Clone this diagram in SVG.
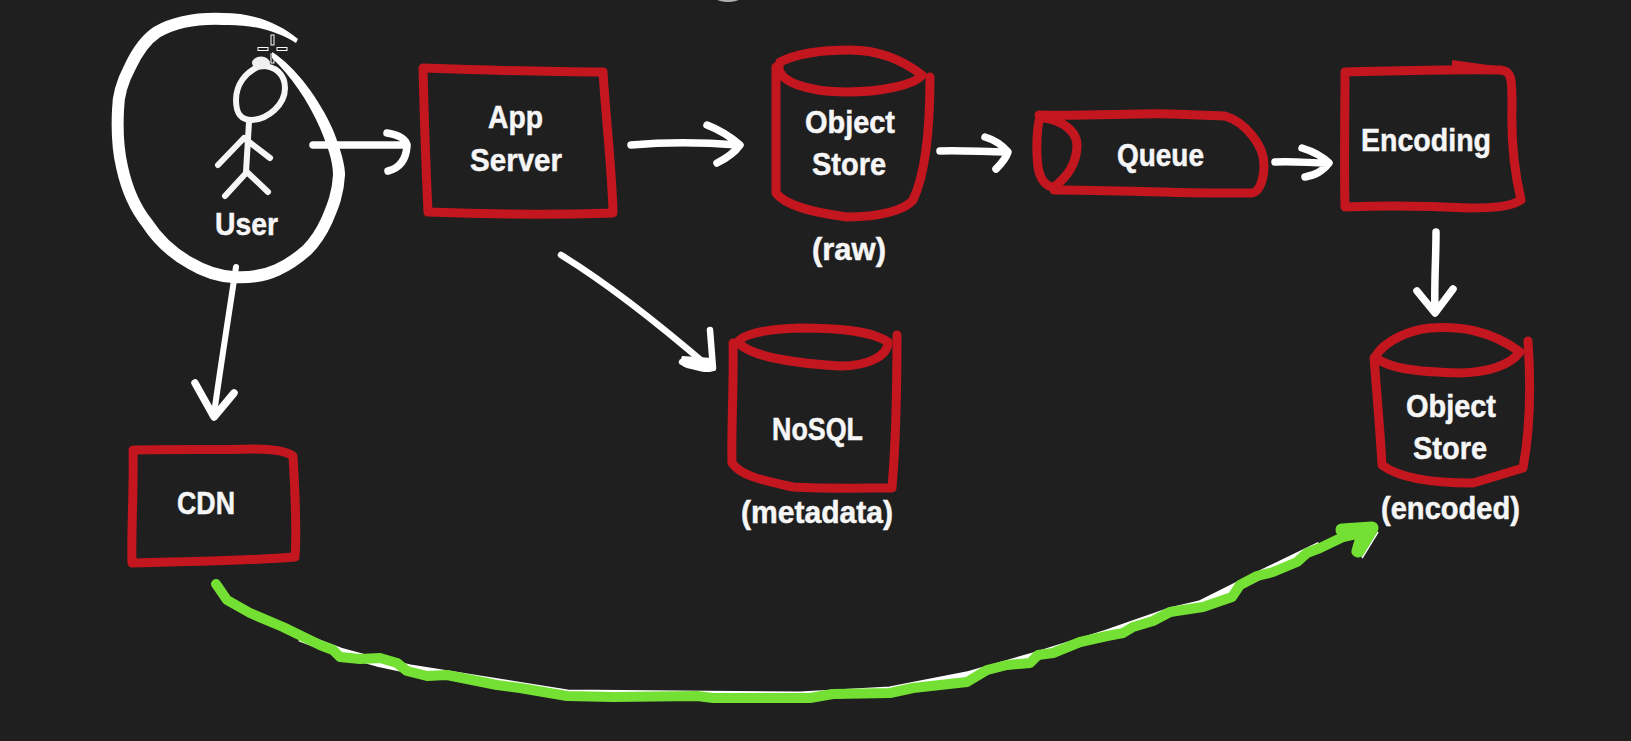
<svg xmlns="http://www.w3.org/2000/svg" width="1631" height="741" viewBox="0 0 1631 741">
<style>
.bg{fill:#1f1f1f}
.r{fill:none;stroke:#c4161f;stroke-width:9;stroke-linecap:round;stroke-linejoin:round}
.w{fill:none;stroke:#fff;stroke-width:7.500;stroke-linecap:round;stroke-linejoin:round}
.f{fill:#fff}
.s{fill:none;stroke:#f6f6f6;stroke-width:6;stroke-linecap:round;stroke-linejoin:round}
.g{fill:none;stroke:#74e034;stroke-width:10;stroke-linecap:round;stroke-linejoin:round}
.t{font-family:"Liberation Sans",Arial,sans-serif;font-weight:700;font-size:32px;fill:#f6f6f6;stroke:#f6f6f6;stroke-width:.5px}
</style>
<rect class="bg" width="1631" height="741"/>
<ellipse cx="728" cy="-1" rx="11" ry="3" fill="#b0b0b0"/>
<g id="user">
<path class="f" d="M223 13C255 13 280 24 298 39L296 43C278 32 255 24 223 25Z"/>
<path class="w" style="stroke-width:12" d="M223 19C198 18 175 22 157 32C145 40 137 52 130 67C122 82 118 95 118 110C117 130 118 150 122 167C127 190 135 208 147 223C158 240 172 253 190 263C205 272 218 276 233 277C250 278 264 276 277 270C288 265 298 258 307 250C316 241 322 231 327 220C332 208 338 195 339 175"/>
<path class="f" d="M272 52C295 66 320 100 333 130C341 150 345 165 345 175L333 175C333 160 327 145 320 128C308 100 290 75 272 58Z"/>
<path class="s" d="M260 66C245 72 236 85 236 100C236 113 240 120 252 120C268 119 285 105 285 88C285 74 275 66 262 66"/>
<ellipse cx="261" cy="63" rx="9" ry="6.500" fill="#f0f0f0"/>
<path class="s" d="M249 122L246 172M218 165L244 138L270 158M225 196L247 172L268 192"/>
<g fill="none" stroke="#fff" stroke-width="1">
<rect x="271" y="35" width="3" height="10"/><rect x="271" y="54" width="3" height="9"/><rect x="258" y="47.500" width="10" height="3"/><rect x="277" y="47.500" width="10" height="3"/>
</g>
<text class="t" x="215" y="235" textLength="63" lengthAdjust="spacingAndGlyphs">User</text>
</g>
<g id="app-server">
<path class="r" d="M423 68C480 70 550 72 603 72C606 120 612 170 613 213C550 215 480 214 428 212C426 170 424 110 423 68Z"/>
<text class="t" x="488" y="128" textLength="55" lengthAdjust="spacingAndGlyphs">App</text>
<text class="t" x="470" y="171" textLength="92" lengthAdjust="spacingAndGlyphs">Server</text>
</g>
<g id="object-store-raw">
<path class="r" d="M780 62C800 52 830 50 850 50C880 50 905 62 922 75C915 85 880 92 847 92C810 92 772 82 780 62Z"/>
<path class="r" d="M776 67L776 193C785 205 810 212 847 217C880 217 905 210 913 200C925 175 930 130 930 77"/>
<text class="t" x="805" y="133" textLength="90" lengthAdjust="spacingAndGlyphs">Object</text>
<text class="t" x="812" y="175" textLength="74" lengthAdjust="spacingAndGlyphs">Store</text>
<text class="t" x="812" y="260" textLength="74" lengthAdjust="spacingAndGlyphs">(raw)</text>
</g>
<g id="queue">
<path class="r" d="M1039 115C1090 116 1140 113 1171 114L1225 116C1245 122 1264 145 1264 165C1264 178 1260 192 1252 193C1200 194 1120 190 1054 190"/>
<path class="r" d="M1040 117C1036 130 1036 160 1039 172C1042 182 1048 187 1054 187C1066 178 1076 165 1077 147C1078 130 1060 120 1044 118"/>
<text class="t" x="1117" y="166" textLength="87" lengthAdjust="spacingAndGlyphs">Queue</text>
</g>
<g id="encoding">
<path class="r" d="M1345 72C1400 71 1450 69 1500 70C1512 71 1512 78 1512 107C1511 140 1514 170 1521 200C1510 207 1493 208 1470 208C1430 206 1390 205 1345 207C1344 170 1345 110 1345 72Z"/>
<path d="M1452 60L1510 68L1452 74Z" fill="#c4161f"/>
<text class="t" x="1361" y="151" textLength="130" lengthAdjust="spacingAndGlyphs">Encoding</text>
</g>
<g id="object-store-encoded">
<path class="r" d="M1375 357C1385 340 1410 330 1430 328C1460 326 1490 330 1520 352C1510 365 1490 372 1460 373C1425 372 1390 370 1375 357Z"/>
<path class="r" d="M1374 358C1377 395 1380 430 1382 465C1395 475 1420 483 1473 483C1490 478 1510 472 1523 468C1530 430 1531 385 1528 341"/>
<text class="t" x="1406" y="417" textLength="90" lengthAdjust="spacingAndGlyphs">Object</text>
<text class="t" x="1413" y="459" textLength="74" lengthAdjust="spacingAndGlyphs">Store</text>
<text class="t" x="1381" y="519" textLength="139" lengthAdjust="spacingAndGlyphs">(encoded)</text>
</g>
<g id="nosql">
<path class="r" d="M738 342C745 332 773 329 800 328C835 328 870 330 888 342C888 355 870 366 840 366C805 364 750 358 738 342Z"/>
<path class="r" d="M733 343C734 385 731 430 732 463C740 475 760 480 793 487C830 489 865 488 892 488C896 440 897 385 897 335"/>
<text class="t" x="772" y="440" textLength="91" lengthAdjust="spacingAndGlyphs">NoSQL</text>
<text class="t" x="741" y="523" textLength="152" lengthAdjust="spacingAndGlyphs">(metadata)</text>
</g>
<g id="cdn">
<path class="r" d="M133 450C170 449 220 450 253 449C270 449 285 450 293 456C295 490 297 530 295 557C260 560 180 562 132 563C131 530 134 490 133 450Z"/>
<text class="t" x="177" y="514" textLength="58" lengthAdjust="spacingAndGlyphs">CDN</text>
</g>
<g id="connectors">
<path class="w" d="M313 145L407 145M387 133C400 135 407 140 407 146C406 160 400 168 388 171"/>
<path class="w" d="M631 145C665 142 700 142 738 145M707 125C720 130 732 138 740 145C735 152 727 158 717 163"/>
<path class="w" d="M940 151C960 150 985 152 1006 152M985 137C995 140 1003 146 1008 152C1006 158 1002 163 996 169"/>
<path class="w" d="M1275 162C1295 161 1310 163 1327 163M1302 148C1315 152 1324 158 1329 163C1322 172 1315 175 1305 177"/>
<path class="w" d="M1436 232C1436 260 1434 285 1435 312M1417 291L1435 313L1453 289"/>
<path class="w" style="stroke-width:6.500" d="M561 255C610 285 660 325 710 368M710 330L713 368L682 362"/>
<path class="f" d="M682 356L712 358L716 368C714 373 705 373 695 370C688 368 682 368 680 362Z"/>
<path class="w" style="stroke-width:6" d="M236 267C228 320 220 370 214 414"/>
<path class="w" d="M195 383L214 417L234 393"/>
<path fill="none" stroke="#fff" stroke-width="9" stroke-linejoin="round" d="M300 637L340 652L377 662L410 669L567 694L800 696L890 691L967 676L1033 657L1107 634L1170 612L1200 605L1260 575L1320 546"/>
<path fill="none" stroke="#fff" stroke-width="1.500" d="M1378 532L1362 558"/>
<path class="g" d="M216 584L227 600L250 613L283 627L320 645L333 650L340 657L360 659L380 658L397 663L407 671L427 676L447 675L477 681L497 685L520 688L567 696L613 697L697 696L713 698L810 698L833 694L890 693L913 688L967 682L987 670L1007 665L1030 663L1038 655L1053 653L1080 642L1107 636L1123 633L1133 627L1153 621L1170 612L1203 607L1232 597L1240 585L1257 576L1273 572L1297 562L1307 553L1320 548L1343 537L1365 532"/>
<path class="g" style="stroke-width:13;fill:#74e034" d="M1342 530L1372 528L1358 551L1363 534Z"/>
</g>
</svg>
